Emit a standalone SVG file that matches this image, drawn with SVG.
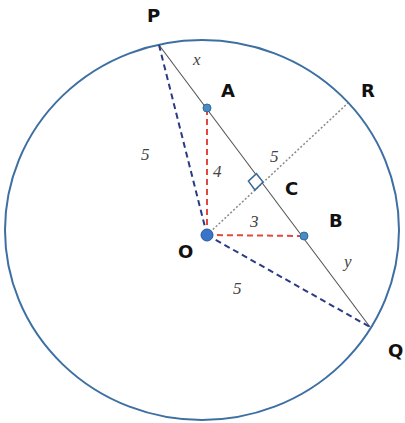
<svg xmlns="http://www.w3.org/2000/svg" width="405" height="423" viewBox="0 0 405 423">
<style>
.lbl{font-family:"DejaVu Sans","Liberation Sans",sans-serif;font-weight:bold;font-size:18px;fill:#111}
.num{font-family:"Liberation Serif","DejaVu Serif",serif;font-style:italic;font-size:17px;fill:#444}
.navy{stroke:#2b3a84;stroke-width:2;stroke-dasharray:6 4;fill:none}
.red{stroke:#e2483c;stroke-width:2;stroke-dasharray:6 4;fill:none}
.pt{fill:#4a8ac6;stroke:#2f6aa0;stroke-width:1}
</style>
<rect width="405" height="423" fill="#ffffff"/>
<g id="circle">
<ellipse cx="202" cy="230" rx="197" ry="190" fill="none" stroke="#3d6fa3" stroke-width="2"/>
</g>
<g id="connectors">
<line x1="159" y1="45" x2="370" y2="327" stroke="#555" stroke-width="1.1"/>
<line x1="207" y1="235" x2="348" y2="103" stroke="#8a8a8a" stroke-width="1.5" stroke-dasharray="2 2"/>
<line class="navy" x1="159" y1="45" x2="207" y2="235"/>
<line class="navy" x1="207" y1="235" x2="370" y2="327"/>
<line class="red" x1="207" y1="235" x2="207" y2="108"/>
<line class="red" x1="207" y1="235" x2="304" y2="236"/>
<polygon points="263,182 256.4,173.7 248.4,181.2 255,190" fill="#ffffff" stroke="#3a6a9a" stroke-width="1.5"/>
</g>
<g id="node-A"><circle class="pt" cx="207" cy="108" r="4"/><text class="lbl" x="221" y="97">A</text></g>
<g id="node-B"><circle class="pt" cx="304" cy="236" r="4"/><text class="lbl" x="329" y="227">B</text></g>
<g id="node-O"><circle cx="207" cy="235" r="6" fill="#3a74c8" stroke="#2a5a9a" stroke-width="1"/><text class="lbl" x="178" y="258">O</text></g>
<g id="node-P"><text class="lbl" x="147" y="22">P</text></g>
<g id="node-Q"><text class="lbl" x="388" y="357">Q</text></g>
<g id="node-R"><text class="lbl" x="361" y="97">R</text></g>
<g id="node-C"><text class="lbl" x="285" y="195">C</text></g>
<g id="labels">
<text class="num" x="193" y="65">x</text>
<text class="num" x="141" y="160">5</text>
<text class="num" x="213" y="177">4</text>
<text class="num" x="270" y="162">5</text>
<text class="num" x="250" y="227">3</text>
<text class="num" x="344" y="267">y</text>
<text class="num" x="233" y="294">5</text>
</g>
</svg>
